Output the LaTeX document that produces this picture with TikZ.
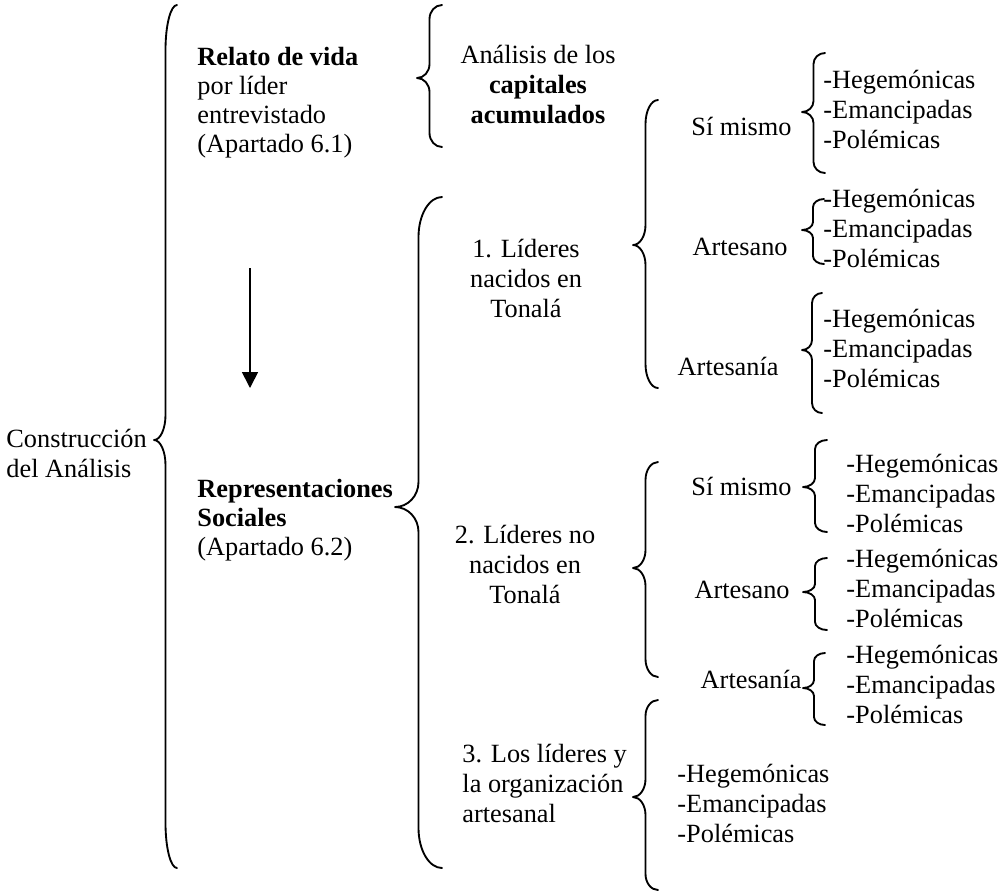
\documentclass[tikz,border=0pt]{standalone}
\usepackage{fontspec}
\setmainfont{Liberation Serif}
\usetikzlibrary{arrows.meta}
\newcommand\wbrace[7]{%
 \pgfmathsetmacro\wbXs{(#1+#2)/2}%
 \pgfmathsetmacro\wbK{0.5523*(#1-#2)/2}%
 \draw[bracestyle] (#1,#3) .. controls ({#1-\wbK},#3) and (\wbXs,{#3+#6-0.5523*#6}) .. (\wbXs,{#3+#6})
 -- (\wbXs,{#4-#7}) .. controls (\wbXs,{#4-#7+0.5523*#7}) and ({#2+\wbK},#4) .. (#2,#4)
 .. controls ({#2+\wbK},#4) and (\wbXs,{#4+#7-0.5523*#7}) .. (\wbXs,{#4+#7})
 -- (\wbXs,{#5-#6}) .. controls (\wbXs,{#5-#6+0.5523*#6}) and ({#1-\wbK},#5) .. (#1,#5);}
\newcommand\wbitems[3]{%
 \node[txt,anchor=base west] (#1h) at (#2,#3) {-Hegemónicas};
 \node[txt,anchor=base west] (#1e) at (#2,{#3+30}) {-Emancipadas};
 \node[txt,anchor=base west] (#1p) at (#2,{#3+60}) {-Polémicas};}
\tikzset{
 txt/.style={inner sep=0pt,font=\fontsize{12}{14}\selectfont},
 bracestyle/.style={line width=0.85pt,line join=round,line cap=round},
 arrowstyle/.style={line width=0.75pt,-{Triangle[length=7.3pt,width=7.3pt]}}
}
\begin{document}
\begin{tikzpicture}[x=0.456pt,y=-0.456pt]
\useasboundingbox (0,0) rectangle (1000,894);
% braces
\wbrace{177}{154}{5}{440}{868}{45}{25}
\wbrace{442}{417}{5}{78}{147}{14}{14}
\wbrace{442}{395}{197}{507}{868}{40}{25}
\wbrace{658}{633}{100}{245}{388}{24}{20}
\wbrace{658}{633}{462}{568}{677}{18}{18}
\wbrace{658}{633}{700}{797}{890}{16}{18}
\wbrace{825}{802}{53}{112}{173}{11}{11}
\wbrace{824}{802}{199}{230}{264}{8}{8}
\wbrace{822}{802}{293}{350}{413}{10}{10}
\wbrace{827}{803}{440}{487}{532}{9}{9}
\wbrace{827}{803}{558}{592}{630}{8}{8}
\wbrace{825}{803}{653}{688}{725}{8}{8}
% column 1
\node[txt,anchor=base west] (c1) at (6,447) {Construcción};
\node[txt,anchor=base west] (c2) at (6,477) {del Análisis};
% column 2
\node[txt,anchor=base west,font=\fontsize{12}{14}\selectfont\bfseries] (r1) at (197,65) {Relato de vida};
\node[txt,anchor=base west] (r2) at (197,94) {por líder};
\node[txt,anchor=base west] (r3) at (197,123) {entrevistado};
\node[txt,anchor=base west] (r4) at (197,152) {(Apartado 6.1)};
\coordinate (a1) at (250,268);
\coordinate (a2) at (250,388);
\draw[arrowstyle] (a1) -- (a2);
\node[txt,anchor=base west,font=\fontsize{12}{14}\selectfont\bfseries] (s1) at (197,497) {Representaciones};
\node[txt,anchor=base west,font=\fontsize{12}{14}\selectfont\bfseries] (s2) at (197,526) {Sociales};
\node[txt,anchor=base west] (s3) at (197,555) {(Apartado 6.2)};
% column 3
\node[txt,anchor=base] (an1) at (538,63) {Análisis de los};
\node[txt,anchor=base,font=\fontsize{12}{14}\selectfont\bfseries] (an2) at (538,93) {capitales};
\node[txt,anchor=base,font=\fontsize{12}{14}\selectfont\bfseries] (an3) at (538,123) {acumulados};
\node[txt,anchor=base] (g1a) at (526,257) {1. Líderes};
\node[txt,anchor=base] (g1b) at (526,287) {nacidos en};
\node[txt,anchor=base] (g1c) at (526,317) {Tonalá};
\node[txt,anchor=base] (g2a) at (525,543) {2. Líderes no};
\node[txt,anchor=base] (g2b) at (525,573) {nacidos en};
\node[txt,anchor=base] (g2c) at (525,603) {Tonalá};
\node[txt,anchor=base west] (g3a) at (462,762) {3. Los líderes y};
\node[txt,anchor=base west] (g3b) at (462,792) {la organización};
\node[txt,anchor=base west] (g3c) at (462,822) {artesanal};
% column 4
\node[txt,anchor=base east] (t1a) at (792,135) {Sí mismo};
\node[txt,anchor=base east] (t1b) at (788,255) {Artesano};
\node[txt,anchor=base east] (t1c) at (779,375) {Artesanía};
\node[txt,anchor=base east] (t2a) at (792,495) {Sí mismo};
\node[txt,anchor=base east] (t2b) at (790,598) {Artesano};
\node[txt,anchor=base east] (t2c) at (802,688) {Artesanía};
% items
\wbitems{ia}{823}{88}
\wbitems{ib}{823}{207}
\wbitems{ic}{823}{327}
\wbitems{id}{846}{472}
\wbitems{ie}{846}{567}
\wbitems{if}{846}{663}
\wbitems{ig}{677}{782}
\end{tikzpicture}
\end{document}
